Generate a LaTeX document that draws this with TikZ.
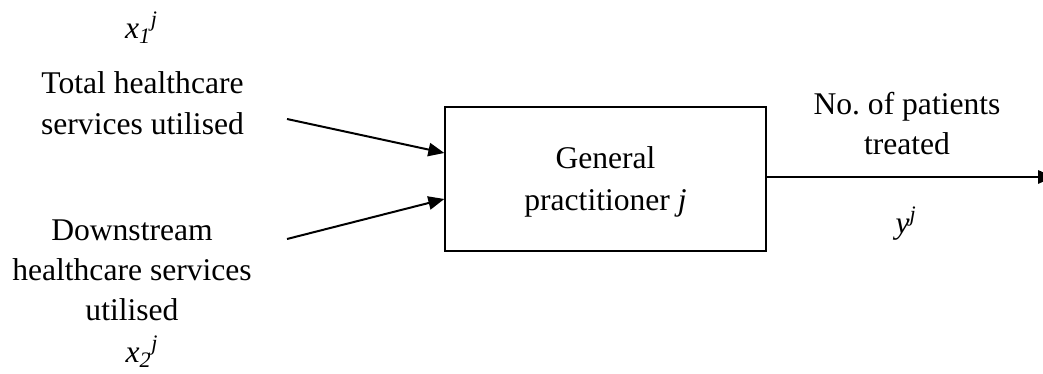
\documentclass[tikz,border=0pt]{standalone}
\usepackage{fontspec}
\setmainfont{Liberation Serif}
\usetikzlibrary{arrows.meta}

\newcommand{\xsub}[1]{\textit{x}\textsubscript{\textit{#1}}\textsuperscript{\textit{j}}}

\begin{document}
\begin{tikzpicture}[
x=0.75pt,y=-0.75pt,
box/.style={
rectangle,draw=black,line width=1pt,
minimum width=240.75pt,minimum height=108pt,align=center
},
label/.style={align=center},
arrow/.style={-{Triangle[length=12pt,width=10pt]},line width=1.5pt,draw=black}
]
\useasboundingbox (0,0) rectangle (1043,374);
\fontsize{23.7}{30}\selectfont

\node[box] (gp) at (605.5,179) {};
\node[label] (gptext) at (605.5,182) {General\\[1pt]practitioner \textit{j}};

\node[label] (x1) at (141.5,28) {\xsub{1}};
\node[label] (total) at (142.5,103) {Total healthcare\\[1pt]services utilised};
\node[label] (down) at (132,270) {Downstream\\healthcare services\\utilised};
\node[label] (x2) at (142,352) {\xsub{2}};
\node[label] (patients) at (907,124) {No.\ of patients\\treated};
\node[label] (y) at (906,224) {\textit{y}\textsuperscript{\textit{j}}};

\coordinate (in1) at (287,119);
\coordinate (in2) at (287,239);
\coordinate (out) at (1054,177);

\draw[arrow] (in1)--([yshift=19.5pt]gp.west);
\draw[arrow] (in2)--([yshift=-15pt]gp.west);
\draw[arrow] (gp.east|-out)--(out);

\end{tikzpicture}
\end{document}
